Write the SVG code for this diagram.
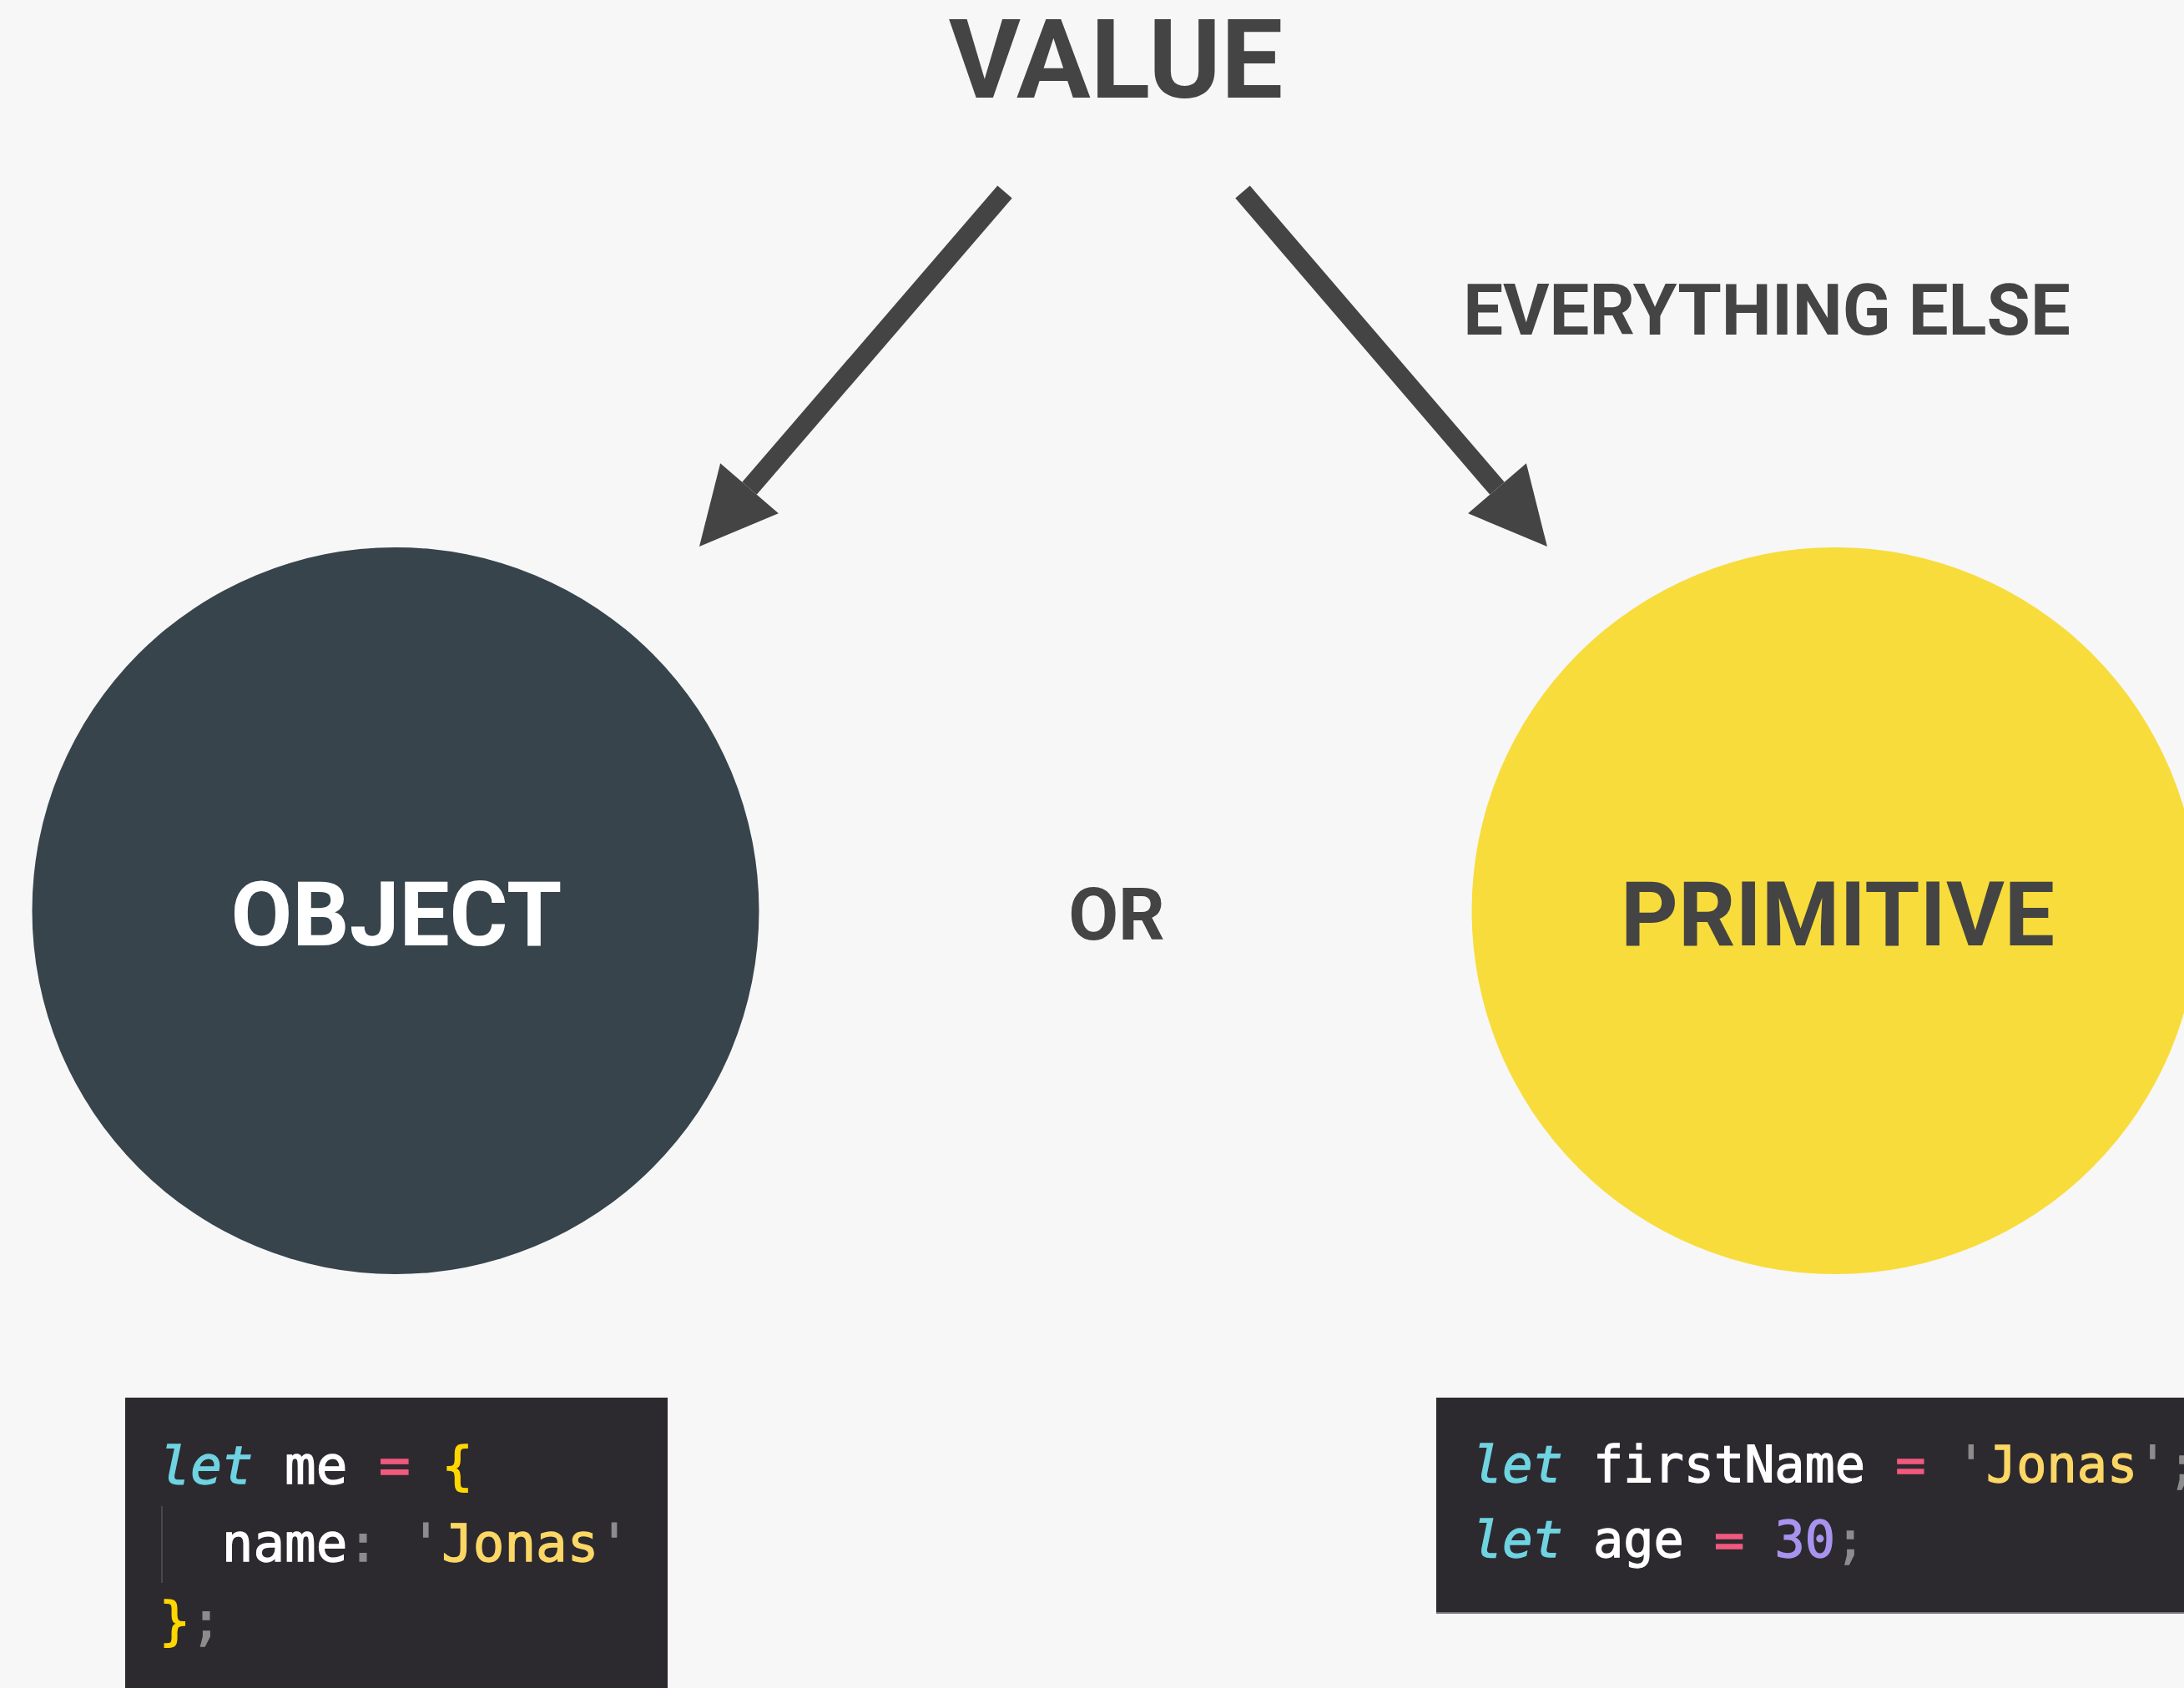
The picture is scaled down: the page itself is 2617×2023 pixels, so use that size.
<svg xmlns="http://www.w3.org/2000/svg" width="2617" height="2023" viewBox="0 0 2617 2023">
<defs>
<style>
.lbl{font-family:Roboto,"Liberation Sans",sans-serif;font-weight:700;fill:#444444;text-anchor:middle}
.code{font-family:"DejaVu Sans Mono","Liberation Mono",monospace;white-space:pre;stroke-width:1.3}
.kw{fill:#6fd3e2;stroke:#6fd3e2;font-style:italic}
.id{fill:#ffffff;stroke:#ffffff}
.op{fill:#f2597f;stroke:#f2597f}
.br{fill:#ffd700;stroke:#ffd700}
.str{fill:#fcd765;stroke:#fcd765}
.pun{fill:#8c8c8c;stroke:#8c8c8c}
.num{fill:#a893ee;stroke:#a893ee}
.conn{stroke:#444444;stroke-width:23;fill:none;stroke-linecap:butt}
</style>
<marker id="head" markerUnits="userSpaceOnUse" markerWidth="92" markerHeight="92" viewBox="0 0 92 92" refX="0" refY="46" orient="auto" overflow="visible">
<path d="M0,0 L92,46 L0,92 Z" fill="#444444"/>
</marker>
</defs>
<rect x="0" y="0" width="2617" height="2023" fill="#f7f7f7"/>

<g id="value">
<text class="lbl" x="1337" y="117" font-size="132">VALUE</text>
</g>

<g id="connectors">
<line class="conn" x1="1204" y1="230" x2="898" y2="585.3" marker-end="url(#head)"/>
<line class="conn" x1="1489" y1="230" x2="1794" y2="585.3" marker-end="url(#head)"/>
</g>

<g id="everything-else">
<text class="lbl" x="2117" y="401" font-size="85">EVERYTHING ELSE</text>
</g>

<g id="object">
<circle cx="474" cy="1091.5" r="435.5" fill="#37444c"/>
<text class="lbl" x="475" y="1133" font-size="107" style="fill:#ffffff">OBJECT</text>
</g>

<g id="or">
<text class="lbl" x="1338" y="1126" font-size="87">OR</text>
</g>

<g id="primitive">
<circle cx="2199" cy="1091.5" r="435.5" fill="#f8dc3b"/>
<text class="lbl" x="2202" y="1133" font-size="107">PRIMITIVE</text>
</g>

<g id="object-code">
<rect x="150" y="1675" width="650" height="360" fill="#2c2a2f"/>
<line x1="194" y1="1805" x2="194" y2="1897" stroke="#4a484d" stroke-width="2"/>
<text class="code" font-size="62.5" x="190.5" y="1778"><tspan class="kw">let</tspan><tspan class="id"> me </tspan><tspan class="op">=</tspan><tspan class="id"> </tspan><tspan class="br">{</tspan></text>
<text class="code" font-size="62.5" x="190.5" y="1871"><tspan class="id">  name</tspan><tspan class="pun">:</tspan><tspan class="id"> </tspan><tspan class="pun">'</tspan><tspan class="str">Jonas</tspan><tspan class="pun">'</tspan></text>
<text class="code" font-size="62.5" x="190.5" y="1964"><tspan class="br">}</tspan><tspan class="pun">;</tspan></text>
</g>

<g id="primitive-code">
<rect x="1721" y="1675" width="900" height="259" fill="#2c2a2f"/>
<line x1="1721" y1="1933" x2="2617" y2="1933" stroke="#77767a" stroke-width="2"/>
<text class="code" font-size="60.2" x="1764" y="1776"><tspan class="kw">let</tspan><tspan class="id"> firstName </tspan><tspan class="op">=</tspan><tspan class="id"> </tspan><tspan class="pun">'</tspan><tspan class="str">Jonas</tspan><tspan class="pun">';</tspan></text>
<text class="code" font-size="60.2" x="1764" y="1866"><tspan class="kw">let</tspan><tspan class="id"> age </tspan><tspan class="op">=</tspan><tspan class="id"> </tspan><tspan class="num">30</tspan><tspan class="pun">;</tspan></text>
</g>
</svg>
